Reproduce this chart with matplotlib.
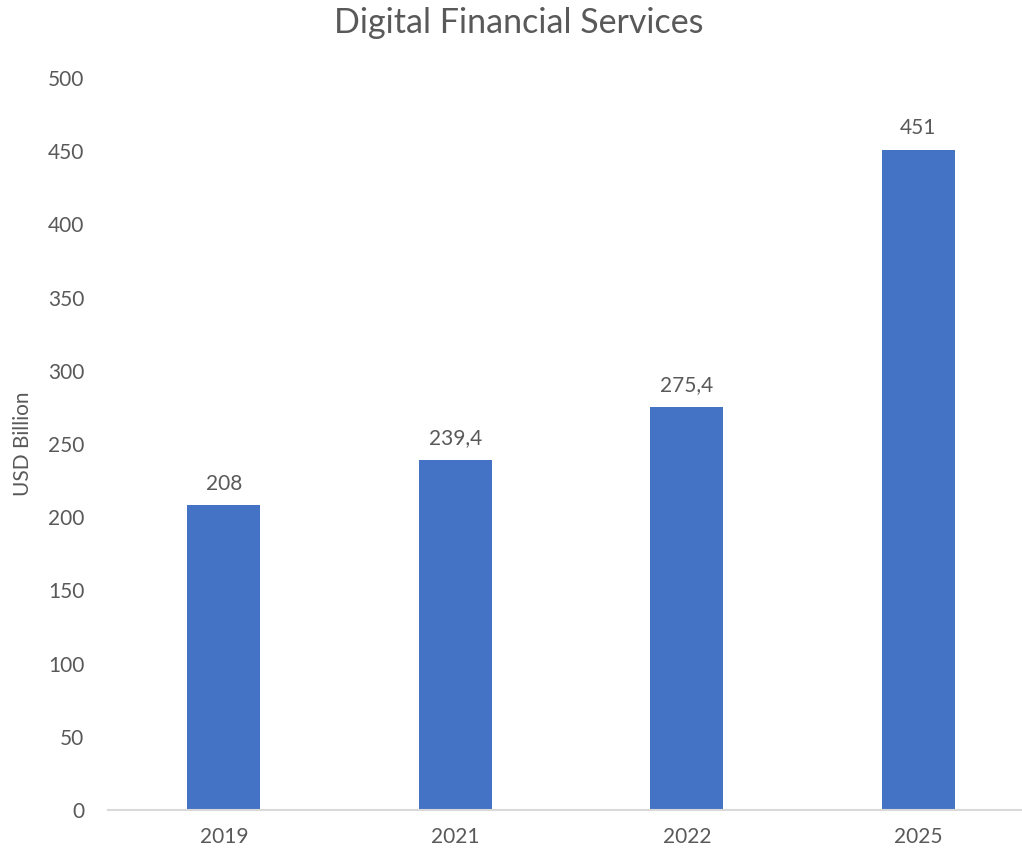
import matplotlib.pyplot as plt

years = ['2019', '2021', '2022', '2025']
values = [208, 239.4, 275.4, 451]
labels = ['208', '239,4', '275,4', '451']

plt.rcParams['font.family'] = ['Lato', 'DejaVu Sans']
grey = '#595959'

fig = plt.figure(figsize=(10.22, 8.56), dpi=100)
ax = fig.add_axes([108 / 1022, 46 / 856, 926 / 1022, 732 / 856])

x = range(len(years))
ax.bar(x, values, width=0.316, color='#4472C4', zorder=2)
for i, v in enumerate(values):
    ax.text(i, v + 8, labels[i], ha='center', va='bottom', fontsize=15, color=grey)

ax.set_xlim(-0.5, 3.5)
ax.set_ylim(0, 500)
ax.set_yticks(range(0, 501, 50))
ax.set_xticks(list(x))
ax.set_xticklabels(years)
ax.tick_params(axis='both', length=0, labelsize=15, colors=grey)
ax.tick_params(axis='x', pad=12)
ax.tick_params(axis='y', pad=17)
for s in ['top', 'right', 'left']:
    ax.spines[s].set_visible(False)
ax.spines['bottom'].set_color('#D9D9D9')
ax.spines['bottom'].set_linewidth(1.5)

ax.set_ylabel('USD Billion', fontsize=15, color=grey, labelpad=11)
fig.text(519 / 1022, 1 - 23 / 856, 'Digital Financial Services', ha='center', va='center',
         fontsize=24.5, color=grey)

fig.savefig('out.png', dpi=100)
